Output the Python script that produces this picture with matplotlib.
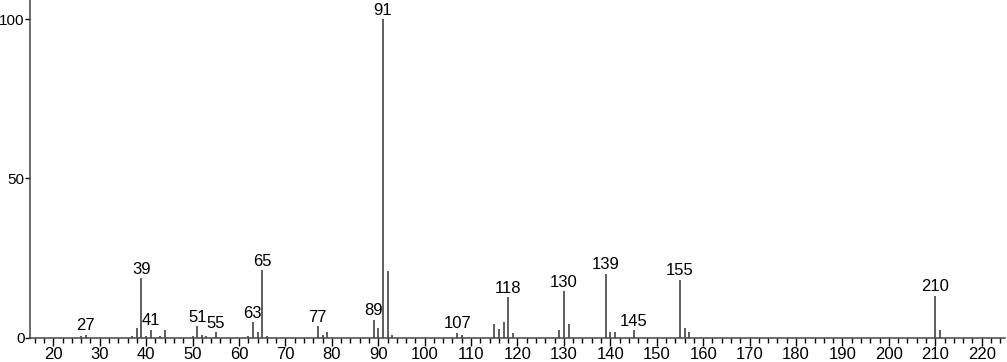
import matplotlib
matplotlib.use("Agg")
import matplotlib.pyplot as plt
from matplotlib.ticker import MultipleLocator

# m/z and relative intensity
mz = [26, 27, 37, 38, 39, 40, 41, 43, 44, 50, 51, 52, 53, 55,
      62, 63, 64, 65, 66, 77, 78, 79, 89, 90, 91, 92, 93,
      107, 108, 115, 116, 117, 118, 119, 129, 130, 131,
      139, 140, 141, 145, 155, 156, 157, 210, 211]
intensity = [0.6, 0.9, 0.5, 3.0, 18.6, 0.5, 2.5, 0.5, 2.4, 0.6, 3.6, 0.8, 0.6, 1.7,
             0.6, 4.9, 1.7, 21.2, 0.7, 3.6, 0.9, 1.7, 5.7, 3.0, 100.0, 20.9, 0.8,
             1.6, 1.0, 4.3, 2.9, 4.9, 12.7, 1.6, 2.4, 14.6, 4.3,
             20.1, 1.7, 1.7, 2.3, 18.1, 3.1, 1.7, 13.1, 2.4]
labelled = [27, 39, 41, 51, 55, 63, 65, 77, 89, 91, 107, 118, 130, 139, 145, 155, 210]

plt.rcParams["font.family"] = ["Liberation Sans", "DejaVu Sans"]

fig = plt.figure(figsize=(10.07, 3.62), dpi=100)
ax = fig.add_axes([0.0298, 0.067, 0.9682, 0.933])

ax.vlines(mz, 0, intensity, color="#333333", lw=1.1)
for m, h in zip(mz, intensity):
    if m in labelled:
        ax.text(m, h + 0.5, str(m), ha="center", va="bottom", fontsize=12,
                clip_on=False)

ax.set_xlim(15, 225)
ax.set_ylim(0, 106)
ax.set_xticks(range(20, 230, 10))
ax.set_xticklabels([str(t) for t in range(20, 230, 10)])
ax.xaxis.set_minor_locator(MultipleLocator(2))
ax.set_yticks([0, 50, 100])
ax.tick_params(axis="x", which="major", length=6, width=1, labelsize=12, pad=1)
ax.tick_params(axis="x", which="minor", length=3.5, width=1)
ax.tick_params(axis="y", length=3.5, width=1, labelsize=11, pad=0.5)
for s in ("top", "right"):
    ax.spines[s].set_visible(False)
for s in ("left", "bottom"):
    ax.spines[s].set_color("#444444")
    ax.spines[s].set_linewidth(1.1)

fig.savefig("out.png", dpi=100)
